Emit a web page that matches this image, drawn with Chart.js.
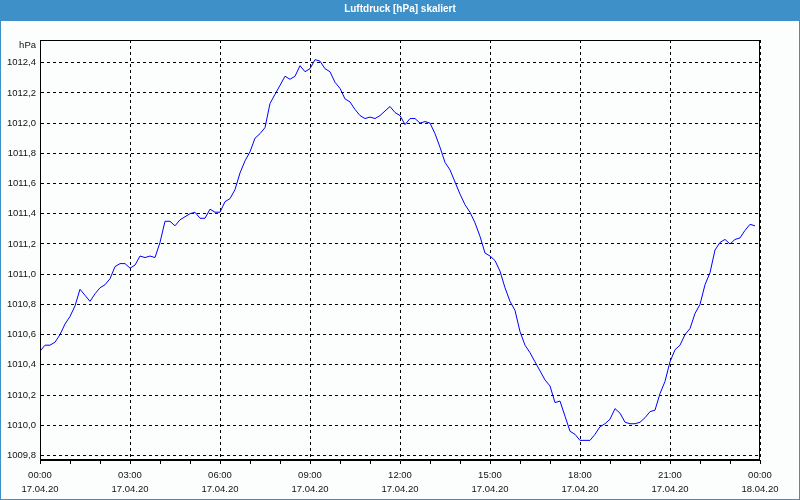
<!DOCTYPE html>
<html><head><meta charset="utf-8">
<script src="https://cdn.jsdelivr.net/npm/chart.js@4.4.1/dist/chart.umd.min.js"></script>
<style>html,body{margin:0;padding:0;background:#fff}canvas{display:block}</style>
</head><body>
<canvas id="c" width="800" height="500"></canvas>
<script>
const chartTitle = 'Luftdruck [hPa] skaliert';
const unitLabel = 'hPa';
const stepMinutes = 10;
const pressure = [
1010.49,1010.53,1010.53,1010.55,1010.60,1010.67,1010.72,1010.79,1010.90,1010.86,1010.82,1010.87,
1010.91,1010.93,1010.97,1011.05,1011.07,1011.07,1011.04,1011.06,1011.12,1011.11,1011.12,1011.11,
1011.21,1011.35,1011.35,1011.32,1011.36,1011.38,1011.40,1011.41,1011.37,1011.37,1011.43,1011.41,
1011.41,1011.48,1011.50,1011.56,1011.67,1011.75,1011.81,1011.90,1011.93,1011.97,1012.13,1012.19,
1012.25,1012.31,1012.29,1012.31,1012.38,1012.34,1012.36,1012.42,1012.41,1012.36,1012.34,1012.27,
1012.23,1012.16,1012.14,1012.09,1012.05,1012.03,1012.04,1012.03,1012.05,1012.08,1012.11,1012.07,
1012.05,1011.99,1012.03,1012.03,1012.00,1012.01,1012.00,1011.93,1011.84,1011.74,1011.69,1011.61,
1011.53,1011.46,1011.41,1011.34,1011.25,1011.14,1011.12,1011.09,1011.02,1010.91,1010.82,1010.76,
1010.62,1010.53,1010.48,1010.42,1010.36,1010.30,1010.26,1010.15,1010.16,1010.06,1009.96,1009.94,
1009.90,1009.90,1009.90,1009.94,1009.99,1010.01,1010.04,1010.11,1010.08,1010.02,1010.01,1010.01,
1010.02,1010.05,1010.09,1010.10,1010.21,1010.29,1010.42,1010.50,1010.53,1010.60,1010.64,1010.74,
1010.80,1010.93,1011.01,1011.16,1011.21,1011.23,1011.20,1011.23,1011.24,1011.29,1011.33,1011.32
];
const yTicks = [1009.8,1010.0,1010.2,1010.4,1010.6,1010.8,1011.0,1011.2,1011.4,1011.6,1011.8,1012.0,1012.2,1012.4];
const xTickTimes = ['00:00','03:00','06:00','09:00','12:00','15:00','18:00','21:00','00:00'];
const xTickDates = ['17.04.20','17.04.20','17.04.20','17.04.20','17.04.20','17.04.20','17.04.20','17.04.20','18.04.20'];

const FONT = 'Liberation Sans';
const frameColor = '#3d91c8';

const points = pressure.map((v, i) => ({x: i * stepMinutes, y: v}));

const decor = {
  id: 'decor',
  beforeDraw(chart) {
    const ctx = chart.ctx;
    ctx.save();
    ctx.fillStyle = '#fcfefd';
    ctx.fillRect(0, 0, 800, 500);
    ctx.fillStyle = frameColor;
    ctx.fillRect(0, 0, 800, 21);
    ctx.fillRect(0, 0, 1, 500);
    ctx.fillRect(799, 0, 1, 500);
    ctx.fillRect(0, 499, 800, 1);
    ctx.fillStyle = '#ffffff';
    ctx.font = 'bold 10px ' + FONT;
    ctx.textAlign = 'center';
    ctx.textBaseline = 'middle';
    ctx.fillText(chartTitle, 400, 9.5);
    ctx.restore();
  },
  afterDraw(chart) {
    const ctx = chart.ctx, a = chart.chartArea;
    ctx.save();
    ctx.strokeStyle = '#000';
    ctx.lineWidth = 1;
    ctx.strokeRect(Math.round(a.left) + 0.5, Math.round(a.top) + 0.5, Math.round(a.right - a.left) - 1, Math.round(a.bottom - a.top) - 1);
    ctx.fillStyle = '#111';
    ctx.font = '9.5px ' + FONT;
    ctx.textAlign = 'right';
    ctx.textBaseline = 'middle';
    ctx.fillText(unitLabel, 36, 45);
    ctx.restore();
  }
};

new Chart(document.getElementById('c'), {
  type: 'line',
  data: { datasets: [{ data: points, borderColor: '#0000ff', borderWidth: 1, pointRadius: 0, tension: 0, fill: false }] },
  options: {
    responsive: false,
    animation: false,
    devicePixelRatio: 1,
    layout: { padding: { top: 40, right: 40, left: 0, bottom: 0 } },
    plugins: { legend: { display: false }, title: { display: false }, tooltip: { enabled: false } },
    scales: {
      x: {
        type: 'linear', min: 0, max: 1440,
        afterFit(s) { s.height = 40; },
        border: { display: true, color: '#000', width: 1, dash: [3, 3] },
        grid: {
          color: c => (c.tick && c.tick.value % 180 === 0) ? '#000' : 'rgba(0,0,0,0)',
          tickColor: '#000', tickLength: 4, drawTicks: true, tickBorderDash: []
        },
        ticks: {
          stepSize: 60, autoSkip: false, maxRotation: 0, padding: 4, color: '#111',
          font: { family: FONT, size: 9.5, lineHeight: 1.47 },
          callback: v => (v % 180 === 0) ? [xTickTimes[v / 180], xTickDates[v / 180]] : ''
        }
      },
      y: {
        min: 1009.77, max: 1012.55,
        afterFit(s) { s.width = 40; },
        afterBuildTicks(s) { s.ticks = yTicks.map(v => ({value: v})); },
        border: { display: true, color: '#000', width: 1, dash: [3, 3] },
        grid: { color: '#000', drawTicks: false },
        ticks: {
          padding: 4, color: '#111',
          font: { family: FONT, size: 9.5 },
          callback: v => Number(v).toFixed(1).replace('.', ',')
        }
      }
    }
  },
  plugins: [decor]
});
</script>
</body></html>
